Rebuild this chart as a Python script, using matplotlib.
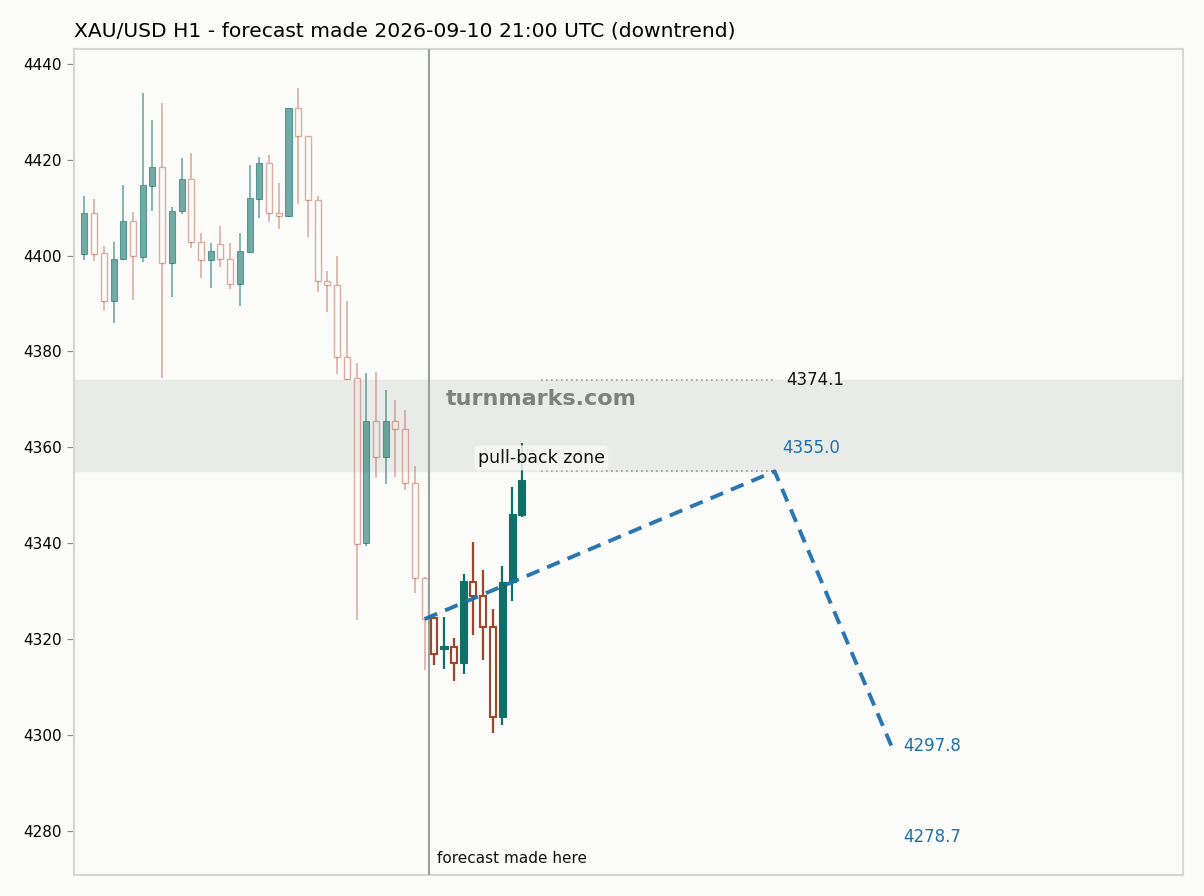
import matplotlib
matplotlib.use("Agg")
import matplotlib.pyplot as plt

# candles: history before the forecast point, then what happened after
opens = [4400.3, 4408.9, 4400.5, 4390.5, 4399.3, 4407.2, 4399.8, 4414.5, 4418.4, 4398.4,
         4409.2, 4415.9, 4402.9, 4399.0, 4402.4, 4399.3, 4394.0, 4400.7, 4411.9, 4419.3,
         4408.9, 4408.2, 4430.8, 4424.9, 4411.5, 4394.7, 4393.8, 4378.8, 4374.5, 4340.0,
         4365.6, 4358.0, 4365.6, 4363.8, 4352.6, 4332.8,
         4324.4, 4318.0, 4318.3, 4315.0, 4332.0, 4329.1, 4322.6, 4303.7, 4331.9, 4345.8]
closes = [4408.9, 4400.3, 4390.5, 4399.3, 4407.2, 4399.9, 4414.7, 4418.4, 4398.4, 4409.2,
          4415.9, 4402.9, 4399.0, 4400.9, 4399.3, 4394.0, 4400.9, 4412.0, 4419.3, 4408.9,
          4408.2, 4430.8, 4424.9, 4411.5, 4394.7, 4393.8, 4378.8, 4374.2, 4339.8, 4365.6,
          4358.0, 4365.6, 4363.8, 4352.6, 4332.8, 4324.2,
          4316.9, 4318.6, 4315.0, 4332.2, 4329.1, 4322.5, 4303.7, 4331.9, 4346.1, 4353.2]
highs = [4412.5, 4411.7, 4401.9, 4402.9, 4414.8, 4409.0, 4433.9, 4428.2, 4431.8, 4410.2,
         4420.3, 4421.3, 4404.7, 4402.6, 4406.1, 4402.7, 4404.7, 4418.8, 4420.6, 4420.9,
         4415.2, 4430.8, 4435.0, 4425.0, 4412.5, 4396.7, 4400.0, 4390.5, 4377.5, 4375.6,
         4375.8, 4371.9, 4369.8, 4367.7, 4356.1, 4333.0,
         4324.6, 4324.6, 4320.2, 4333.6, 4340.2, 4334.4, 4326.3, 4335.3, 4351.7, 4360.9]
lows = [4399.1, 4398.9, 4388.5, 4385.9, 4399.0, 4390.8, 4398.6, 4409.3, 4374.4, 4391.3,
        4408.6, 4401.6, 4395.3, 4393.2, 4397.6, 4393.0, 4389.5, 4400.5, 4407.8, 4406.9,
        4405.6, 4408.0, 4410.8, 4403.9, 4392.4, 4388.2, 4375.3, 4374.0, 4324.0, 4339.4,
        4353.7, 4352.3, 4353.8, 4351.1, 4329.6, 4313.5,
        4314.6, 4313.7, 4311.2, 4312.7, 4320.8, 4315.7, 4300.5, 4302.0, 4328.0, 4345.5]
n_history = 36

# forecast path (bar index, price)
path_x = [35, 71, 83]
path_y = [4324.2, 4355.0, 4297.8]
zone_low = 4355.0
zone_high = 4374.1
target_low = 4278.7

up_col = "#0f7068"
down_col = "#a0442a"
bg = "#fbfbf9"

fig = plt.figure(figsize=(12.04, 8.96), dpi=100, facecolor=bg)
ax = fig.add_axes([0.0615, 0.0234, 0.921, 0.922], facecolor=bg)

for i in range(len(opens)):
    o, c, h, l = opens[i], closes[i], highs[i], lows[i]
    old = i < n_history
    up = c >= o
    top, bot = max(o, c), min(o, c)
    if old:
        col = up_col if up else "#b8523a"
        alpha = 0.58 if up else 0.45
        width, wick_lw, edge_lw = 0.62, 1.2, 1.0
    else:
        col = up_col if up else down_col
        alpha, width, wick_lw, edge_lw = 1.0, 0.74, 1.6, 1.5
    # wick above and below the body only
    ax.vlines([i, i], [top, l], [h, bot], color=col, lw=wick_lw, alpha=alpha, zorder=2)
    if up:
        ax.bar(i, top - bot, bottom=bot, width=width, color=col, edgecolor=col,
               lw=0.8, alpha=alpha, zorder=3)
    else:
        ax.bar(i, top - bot, bottom=bot, width=width - (0.1 if not old else 0),
               facecolor="none", edgecolor=col, lw=edge_lw, alpha=alpha, zorder=3)

ax.axhspan(zone_low, zone_high, color="#e9ebe8", zorder=0)
ax.axvline(35.5, color="#9aa09c", lw=1.5, zorder=4)

ax.hlines([zone_high, zone_low], 47, 71, colors="#999999", linestyles=(0, (1, 2)),
          lw=1.2, zorder=4)
ax.plot(path_x, path_y, color="#1f6fad", lw=2.8, ls=(0, (3.5, 2.2)), zorder=5, alpha=0.95)

ax.text(72.2, zone_high, f"{zone_high:.1f}", color="#111111", fontsize=12, va="center")
ax.text(71.8, zone_low + 4.8, f"{zone_low:.1f}", color="#1f6fad", fontsize=12, va="center")
ax.text(84.2, path_y[2], f"{path_y[2]:.1f}", color="#1f6fad", fontsize=12, va="center")
ax.text(84.2, target_low, f"{target_low:.1f}", color="#1f6fad", fontsize=12, va="center")

ax.text(47, 4370.0, "turnmarks.com", color="#808080", fontsize=16, fontweight="bold",
        ha="center", va="center", zorder=6)
ax.text(47, 4357.8, "pull-back zone", color="#111111", fontsize=12.5, ha="center",
        va="center", zorder=6,
        bbox=dict(boxstyle="round,pad=0.2", fc="#f8f8f6", ec="none", alpha=0.85))
ax.text(36.3, 4272.6, "forecast made here", color="#111111", fontsize=11, va="bottom")

ax.set_xlim(-1.06, 113)
ax.set_ylim(4270.8, 4443.1)
ax.set_yticks([4280, 4300, 4320, 4340, 4360, 4380, 4400, 4420, 4440])
ax.set_xticks([])
ax.tick_params(axis="y", labelsize=11, color="#888888", length=5)
for s in ax.spines.values():
    s.set_color("#d5d8d5")
    s.set_linewidth(1.5)

ax.set_title("XAU/USD H1 - forecast made 2026-09-10 21:00 UTC (downtrend)",
             loc="left", fontsize=14.6, pad=9)

fig.savefig("out.png", dpi=100, facecolor=bg)
